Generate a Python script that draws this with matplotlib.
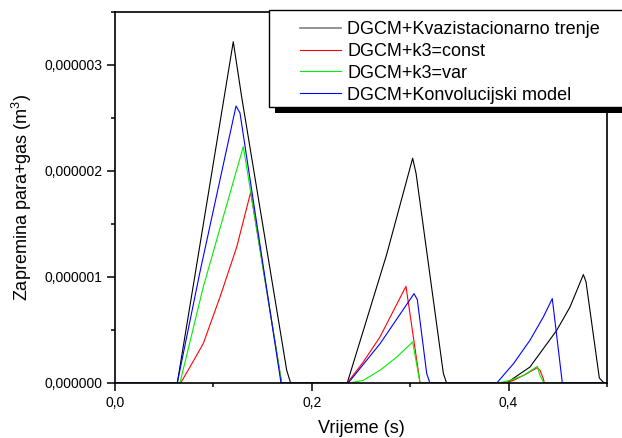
import numpy as np
import matplotlib
matplotlib.use('Agg')
import matplotlib.pyplot as plt
from matplotlib.patches import Rectangle
from matplotlib.ticker import MultipleLocator, FuncFormatter

plt.rcParams['font.family'] = ['Liberation Sans', 'DejaVu Sans']
plt.rcParams['mathtext.fontset'] = 'custom'
plt.rcParams['mathtext.rm'] = 'Liberation Sans'

## ----------- data (y in 1e-6 m3) ----------- ##

labels = ['DGCM+Kvazistacionarno trenje', 'DGCM+k3=const',
          'DGCM+k3=var', 'DGCM+Konvolucijski model']

t_kvazi = [0, 0.0633, 0.1202, 0.1287, 0.1745, 0.1785, 0.236, 0.276, 0.3025,
           0.306, 0.3337, 0.337, 0.398, 0.4217, 0.4489, 0.4624, 0.476, 0.4787,
           0.4922, 0.497, 0.5]
v_kvazi = [0, 0, 3.22, 2.70, 0.12, 0, 0, 1.21, 2.12, 1.975, 0.09, 0, 0, 0.151,
           0.497, 0.717, 1.023, 0.953, 0.047, 0, 0]

t_const = [0, 0.0667, 0.0780, 0.0897, 0.1067, 0.1237, 0.1379, 0.1694, 0.236,
           0.2523, 0.2693, 0.2957, 0.31, 0.3963, 0.405, 0.4184, 0.4292, 0.4319,
           0.4353, 0.4363, 0.5]
v_const = [0, 0, 0.18, 0.372, 0.811, 1.283, 1.80, 0, 0, 0.198, 0.435, 0.912,
           0, 0, 0.025, 0.088, 0.145, 0.12, 0.04, 0, 0]

t_var = [0, 0.066, 0.0897, 0.1304, 0.1694, 0.2378, 0.2523, 0.2693, 0.2863,
         0.3025, 0.31, 0.3896, 0.4014, 0.415, 0.4292, 0.4319, 0.436, 0.5]
v_var = [0, 0, 0.906, 2.23, 0, 0, 0.025, 0.12, 0.245, 0.387, 0, 0, 0.025,
         0.07, 0.157, 0.07, 0, 0]

t_konv = [0, 0.0633, 0.0864, 0.123, 0.127, 0.1687, 0.237, 0.2693, 0.3039,
          0.3072, 0.3168, 0.320, 0.388, 0.405, 0.4217, 0.4353, 0.4444, 0.4546,
          0.5]
v_konv = [0, 0, 1.05, 2.613, 2.548, 0, 0, 0.37, 0.843, 0.787, 0.088, 0, 0,
          0.183, 0.403, 0.623, 0.796, 0, 0]

series = [(t_kvazi, v_kvazi, 'black'), (t_const, v_const, 'red'),
          (t_var, v_var, '#00ee00'), (t_konv, v_konv, 'blue')]

W, H = 622, 438
fig = plt.figure(figsize=(W / 100, H / 100), dpi=100)
ax = fig.add_axes([115 / W, 1 - 383 / H, (607 - 115) / W, (383 - 12) / H])

handles = []
for (t, v, c), lab in zip(series, labels):
    ln, = ax.plot(t, np.array(v) * 1e-6, color=c, lw=0.8, label=lab)
    handles.append(ln)

ax.set_xlim(0, 0.5)
ax.set_ylim(0, 3.5e-6)
ax.xaxis.set_major_locator(MultipleLocator(0.2))
ax.xaxis.set_minor_locator(MultipleLocator(0.1))
ax.yaxis.set_major_locator(MultipleLocator(1e-6))
ax.yaxis.set_minor_locator(MultipleLocator(0.5e-6))
ax.xaxis.set_major_formatter(FuncFormatter(lambda v, p: f'{v:.1f}'.replace('.', ',')))
ax.yaxis.set_major_formatter(FuncFormatter(lambda v, p: f'{v:.6f}'.replace('.', ',')))
ax.tick_params(which='both', direction='out', top=False, right=False, width=1.1,
               labelsize=10)
ax.tick_params(which='major', length=5.5)
ax.tick_params(which='minor', length=3)
ax.tick_params(axis='x', pad=4)
ax.tick_params(axis='y', pad=3.5)
for s in ax.spines.values():
    s.set_linewidth(1.2)

ax.set_xlabel('Vrijeme (s)', fontsize=13)
ax.set_ylabel(r'Zapremina para+gas (m$^{\mathregular{3}}$)', fontsize=13)
ax.xaxis.set_label_coords(0.5, -0.1)
ax.yaxis.set_label_coords(-0.165, 0.5)

# legend box with heavy shadow, partly off the figure
fig.patches.append(Rectangle((275 / W, 1 - 113 / H), 400 / W, 97 / H,
                             transform=fig.transFigure, facecolor='black',
                             edgecolor='none', zorder=3))
fig.patches.append(Rectangle((269 / W, 1 - 107 / H), 400 / W, 97 / H,
                             transform=fig.transFigure, facecolor='white',
                             edgecolor='black', lw=1, zorder=4))
leg = fig.legend(handles, labels, loc='upper left',
                 bbox_to_anchor=(300 / W, 1 - 21 / H), frameon=False,
                 fontsize=13, borderpad=0, borderaxespad=0, handlelength=2.28,
                 handletextpad=0.33, labelspacing=0.27)
leg.set_zorder(5)
leg.get_lines()[0].set_color('#808080')
leg.get_lines()[0].set_linewidth(1.2)

fig.savefig('out.png', dpi=100)
